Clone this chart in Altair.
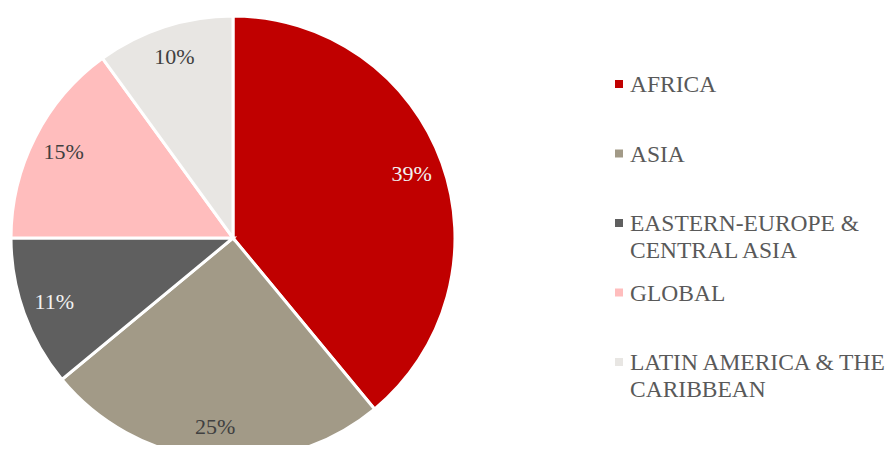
import altair as alt
import pandas as pd

categories = ["AFRICA", "ASIA", "EASTERN-EUROPE & CENTRAL ASIA", "GLOBAL", "LATIN AMERICA & THE CARIBBEAN"]
values = [39, 25, 11, 15, 10]
colors = ["#C00000", "#A29A87", "#5F5F5F", "#FFBDBD", "#E8E6E3"]
label_colors = ["#F2F2F2", "#404040", "#F2F2F2", "#404040", "#404040"]
legend_labels = ["AFRICA", "ASIA", "EASTERN-EUROPE &\nCENTRAL ASIA", "GLOBAL", "LATIN AMERICA & THE\nCARIBBEAN"]

df = pd.DataFrame({
    "category": categories,
    "value": values,
    "idx": list(range(len(categories))),
    "label": [f"{v}%" for v in values],
    "lcolor": label_colors,
    "legend": legend_labels,
})

FONT = "Times New Roman"
CX, CY = 225, 230

color = alt.Color("category:N", scale=alt.Scale(domain=categories, range=colors), legend=None)

base = alt.Chart(df)

arcs = base.mark_arc(outerRadius=222, stroke="white", strokeWidth=3).encode(
    theta=alt.Theta("value:Q", stack=True),
    color=color,
    order=alt.Order("idx:Q"),
    x=alt.value(CX),
    y=alt.value(CY),
)

labels = base.mark_text(radius=190, fontSize=22, font=FONT).encode(
    theta=alt.Theta("value:Q", stack=True),
    text="label:N",
    color=alt.Color("lcolor:N", scale=None),
    order=alt.Order("idx:Q"),
    x=alt.value(CX),
    y=alt.value(CY),
)

ypos = alt.Y("category:N", scale=alt.Scale(type="point", domain=categories, range=[76, 354], padding=0), axis=None)

squares = base.mark_square(size=64, opacity=1).encode(
    x=alt.value(611),
    y=ypos,
    color=color,
)

legend_text = base.mark_text(
    align="left", baseline="alphabetic", dy=8, lineBreak="\n", lineHeight=27,
    fontSize=23.5, font=FONT, color="#595959"
).encode(
    x=alt.value(622),
    y=ypos,
    text="legend:N",
)

chart = alt.layer(arcs, labels, squares, legend_text).properties(
    width=878, height=437, autosize=alt.AutoSizeParams(type="none"), padding=0
).configure_view(stroke=None)

chart.save("out.html", embed_options={"renderer": "svg", "actions": False})
